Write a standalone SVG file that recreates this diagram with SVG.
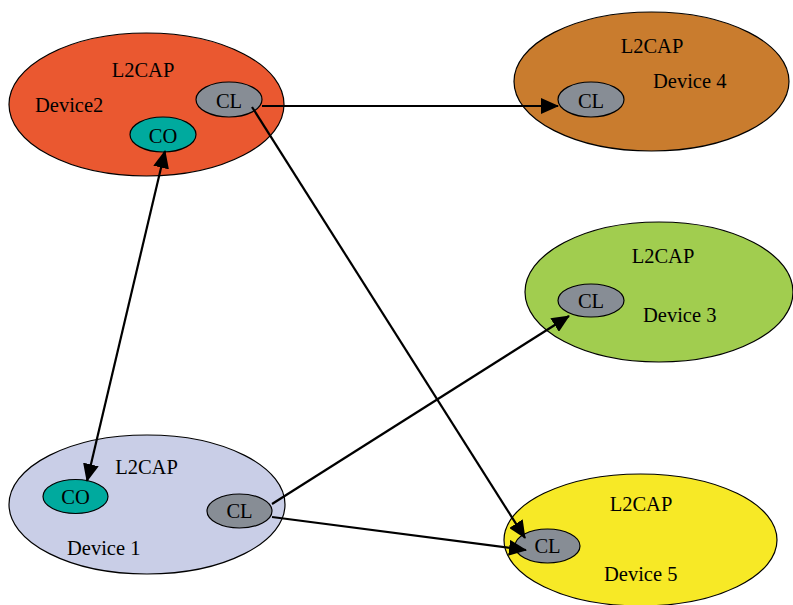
<svg xmlns="http://www.w3.org/2000/svg" width="793" height="605" viewBox="0 0 793 605">
  <defs>
    <marker id="arrow" viewBox="0 0 18 16" refX="17" refY="8" markerUnits="userSpaceOnUse" markerWidth="18" markerHeight="16" orient="auto-start-reverse">
      <path d="M0,0 L18,8 L0,16 z" fill="#000"/>
    </marker>
  </defs>
  <style>
    .dev { stroke: #000; stroke-width: 1.2; }
    .cl { fill: #878D95; stroke: #000; stroke-width: 1.2; }
    .co { fill: #00AA9E; stroke: #000; stroke-width: 1.2; }
    text { font-family: "Liberation Serif", "Times New Roman", serif; font-size: 20.5px; fill: #000; }
    .mid { text-anchor: middle; }
    .conn line { stroke: #000; stroke-width: 2.2; }
  </style>
  <rect width="793" height="605" fill="#fff"/>

  <g id="device2">
    <ellipse class="dev" cx="146.5" cy="104.5" rx="137.5" ry="71.5" fill="#EA5830"/>
    <text class="mid" x="143" y="77">L2CAP</text>
    <text x="35" y="112">Device2</text>
    <ellipse class="cl" cx="229" cy="99.5" rx="33" ry="17.5"/>
    <text class="mid" x="229" y="108">CL</text>
    <ellipse class="co" cx="163" cy="134.5" rx="33" ry="17.5"/>
    <text class="mid" x="163" y="143">CO</text>
  </g>

  <g id="device4">
    <ellipse class="dev" cx="651.5" cy="81.5" rx="137.5" ry="69.5" fill="#C97C2E"/>
    <text class="mid" x="652" y="53">L2CAP</text>
    <text x="653" y="88">Device 4</text>
    <ellipse class="cl" cx="591" cy="99.5" rx="33" ry="17.5"/>
    <text class="mid" x="591" y="108">CL</text>
  </g>

  <g id="device3">
    <ellipse class="dev" cx="659" cy="292" rx="134" ry="70" fill="#A1CD4F"/>
    <text class="mid" x="663" y="263">L2CAP</text>
    <text x="643" y="322">Device 3</text>
    <ellipse class="cl" cx="591" cy="300.5" rx="33" ry="16.5"/>
    <text class="mid" x="591" y="308">CL</text>
  </g>

  <g id="device1">
    <ellipse class="dev" cx="147" cy="504.5" rx="138" ry="69.5" fill="#C9CEE7"/>
    <text class="mid" x="146.5" y="474">L2CAP</text>
    <text x="67" y="555">Device 1</text>
    <ellipse class="co" cx="75.5" cy="496.5" rx="32.5" ry="17"/>
    <text class="mid" x="75.5" y="504">CO</text>
    <ellipse class="cl" cx="239.5" cy="511" rx="32.5" ry="17"/>
    <text class="mid" x="239.5" y="518">CL</text>
  </g>

  <g id="device5">
    <ellipse class="dev" cx="640.5" cy="540" rx="136.5" ry="66" fill="#F7E926"/>
    <text class="mid" x="641" y="511">L2CAP</text>
    <text x="604" y="581">Device 5</text>
    <ellipse class="cl" cx="547.5" cy="546" rx="32.5" ry="17"/>
    <text class="mid" x="547.5" y="553">CL</text>
  </g>

  <g id="connectors" class="conn">
    <line x1="262" y1="106" x2="558" y2="106" marker-end="url(#arrow)"/>
    <line x1="252" y1="107" x2="525" y2="538" marker-end="url(#arrow)"/>
    <line x1="272" y1="517" x2="526" y2="550" marker-end="url(#arrow)"/>
    <line x1="272" y1="504" x2="569" y2="316" marker-end="url(#arrow)"/>
    <line x1="165" y1="151" x2="87" y2="481" marker-start="url(#arrow)" marker-end="url(#arrow)"/>
  </g>
</svg>
